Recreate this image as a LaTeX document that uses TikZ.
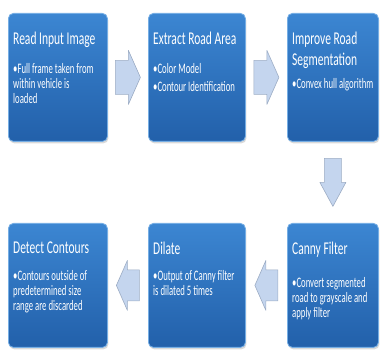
\documentclass[tikz,border=0pt]{standalone}
\usepackage{fontspec}
\newfontfamily\boxfont[FakeStretch=0.64]{Carlito}
\newfontfamily\bodyfont[FakeStretch=0.6]{Carlito}
\usetikzlibrary{calc,shadows}

\definecolor{boxblue}{RGB}{60,134,210}
\definecolor{boxdark}{RGB}{34,96,170}
\definecolor{boxrim}{RGB}{118,174,228}
\definecolor{arrowfill}{RGB}{196,213,238}
\definecolor{arrowrim}{RGB}{156,172,196}

\tikzset{
  procbox/.style={draw=boxrim, line width=0.8pt, rounded corners=5pt,
    top color=boxblue, bottom color=boxdark, anchor=north west,
    inner sep=0pt, drop shadow={opacity=0.3, shadow xshift=1pt, shadow yshift=-2pt}},
  titletext/.style={anchor=north west, inner sep=0pt, align=left, text=white,
    font=\boxfont\fontsize{18}{21}\selectfont},
  bodytext/.style={anchor=north west, inner sep=0pt, align=left, text=white,
    font=\bodyfont\fontsize{14.5}{15}\selectfont},
  flowarrow/.style={draw=arrowrim, fill=arrowfill, line width=0.6pt, line join=round}
}

\begin{document}
\begin{tikzpicture}[x=1pt, y=1pt]
  \useasboundingbox (0,0) rectangle (381,350);
  % --- Helper: \procbox{name}{x}{ytop}{width}{height}{title}{body}{body offset} ---
  \newcommand{\procbox}[8]{%
    \node[procbox, minimum width=#4pt, minimum height=#5pt] (#1) at (#2,#3) {};
    \node[titletext] (#1-title) at ([shift={(5,-19)}]#1.north west) {#6};
    \node[bodytext] (#1-body) at ([shift={(5,-#8)}]#1.north west) {#7};}
  % --- Helper: \blockarrow{centre}{angle}{length}{shaft}{head}{head length} ---
  \newcommand{\blockarrow}[6]{%
    \draw[flowarrow, shift={(#1)}, rotate=#2]
      ({-#3/2},{-#4/2}) -- ({#3/2-#6},{-#4/2}) -- ({#3/2-#6},{-#5/2})
      -- ({#3/2},0) -- ({#3/2-#6},{#5/2}) -- ({#3/2-#6},{#4/2})
      -- ({-#3/2},{#4/2}) -- cycle;}

  % top row, left to right
  \procbox{read}{8}{337}{99}{128}{Read Input Image}
    {•Full frame taken from\\within vehicle is\\loaded}{50}
  \procbox{extract}{148}{337}{97}{128}{Extract Road Area}
    {•Color Model\\[3pt]•Contour Identification}{50}
  \procbox{improve}{287}{337}{91}{128}{Improve Road\\Segmentation}
    {•Convex hull algorithm}{65}
  % bottom row, right to left
  \procbox{canny}{287}{127}{91}{124}{Canny Filter}
    {•Convert segmented\\road to grayscale and\\apply filter}{54}
  \procbox{dilate}{148}{127}{97}{124}{Dilate}
    {•Output of Canny filter\\is dilated 5 times}{47}
  \procbox{detect}{8}{127}{99}{124}{Detect Contours}
    {•Contours outside of\\predetermined size\\range are discarded}{47}

  % arrows between the steps
  \coordinate (a1) at ($(read.east)!0.5!(extract.west)$);
  \coordinate (a2) at ($(extract.east)!0.5!(improve.west)$);
  \coordinate (a3) at ($(improve.south)!0.5!(canny.north)$);
  \coordinate (a4) at ($(canny.west)!0.5!(dilate.east)$);
  \coordinate (a5) at ($(dilate.west)!0.5!(detect.east)$);
  \blockarrow{a1}{0}{25}{34}{54}{12}
  \blockarrow{a2}{0}{25}{34}{54}{12}
  \blockarrow{a3}{-90}{48}{17}{26}{24}
  \blockarrow{a4}{180}{23}{31}{50}{11}
  \blockarrow{a5}{180}{23}{31}{50}{11}
\end{tikzpicture}
\end{document}
